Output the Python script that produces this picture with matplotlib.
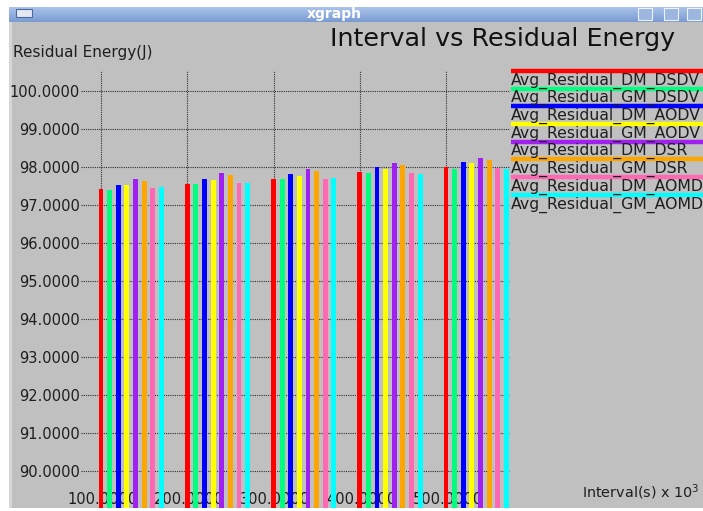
import matplotlib
matplotlib.use("Agg")
import matplotlib.pyplot as plt
import numpy as np
from matplotlib.patches import Rectangle
from matplotlib.colors import LinearSegmentedColormap

W, H = 703, 511

intervals = [100, 200, 300, 400, 500]
series_names = [
    "Avg_Residual_DM_DSDV",
    "Avg_Residual_GM_DSDV",
    "Avg_Residual_DM_AODV",
    "Avg_Residual_GM_AODV",
    "Avg_Residual_DM_DSR",
    "Avg_Residual_GM_DSR",
    "Avg_Residual_DM_AOMDV",
    "Avg_Residual_GM_AOMDV",
]
series_colors = ["#ff0000", "#00ff7f", "#0000ff", "#ffff00",
                 "#a020f0", "#ffa500", "#ff69b4", "#00ffff"]

dm_dsdv = [97.41, 97.56, 97.68, 97.87, 98.00]
gm_dsdv = [97.39, 97.54, 97.68, 97.84, 97.95]
dm_aodv = [97.53, 97.68, 97.82, 98.00, 98.14]
gm_aodv = [97.53, 97.66, 97.77, 97.95, 98.11]
dm_dsr = [97.69, 97.84, 97.95, 98.11, 98.23]
gm_dsr = [97.63, 97.80, 97.89, 98.05, 98.18]
dm_aomdv = [97.44, 97.59, 97.68, 97.84, 97.97]
gm_aomdv = [97.47, 97.59, 97.72, 97.82, 97.95]
series_values = [dm_dsdv, gm_dsdv, dm_aodv, gm_aodv, dm_dsr, gm_dsr, dm_aomdv, gm_aomdv]

y_ticks = [90, 91, 92, 93, 94, 95, 96, 97, 98, 99, 100]

GRAY = "#c0c0c0"
TXT = "#1e1e1e"

fig = plt.figure(figsize=(W / 100, H / 100), dpi=100)
fig.patch.set_facecolor("white")


def fx(px):
    return px / W


def fy(py):
    return 1 - py / H


# window body
body = fig.add_axes([fx(9), fy(508), fx(W - 9), fy(22) - fy(508)], zorder=0)
body.set_facecolor(GRAY)
body.add_patch(Rectangle((0, 0), 3 / (W - 9), 1, transform=body.transAxes,
                         facecolor="#d6d6d6", edgecolor="none"))
body.set_xticks([])
body.set_yticks([])
for s in body.spines.values():
    s.set_visible(False)

# title bar with gradient
tb = fig.add_axes([fx(9), fy(22), fx(W - 9), fy(7) - fy(22)], zorder=1)
grad = np.linspace(0, 1, 20).reshape(-1, 1)
cmap = LinearSegmentedColormap.from_list("tb", ["#a9c2ea", "#7b9cd2"])
tb.imshow(grad, aspect="auto", cmap=cmap, extent=[0, 1, 0, 1], origin="upper")
tb.set_xlim(0, 1)
tb.set_ylim(0, 1)
tb.axis("off")
fig.text(fx(334), fy(14), "xgraph", color="white", fontsize=10, fontweight="bold",
         ha="center", va="center", family="DejaVu Sans", zorder=5)
# window icon and buttons
fig.patches.append(Rectangle((fx(16), fy(17)), fx(16), fy(9) - fy(17), transform=fig.transFigure,
                             facecolor="#e4e8f0", edgecolor="#4a6aa0", lw=0.8, zorder=5))
for bx in [638, 664, 687]:
    fig.patches.append(Rectangle((fx(bx), fy(20)), fx(14), fy(8) - fy(20), transform=fig.transFigure,
                                 facecolor="#9cb6e0", edgecolor="#eef2fa", lw=0.8, zorder=5))

# main plot axes
ax_l, ax_r, ax_t, ax_b = 81, 510, 71, 508
ax = fig.add_axes([fx(ax_l), fy(ax_b), fx(ax_r - ax_l), fy(ax_t) - fy(ax_b)], zorder=2)
ax.set_facecolor("none")
for s in ax.spines.values():
    s.set_visible(False)

px_per_x = 0.8625
ax.set_xlim(100 - 20 / px_per_x, 100 + 409 / px_per_x)
ax.set_ylim(100 - (ax_b - 91) / 38, 100 + (91 - ax_t) / 38)

for yv in y_ticks:
    ax.axhline(yv, color="#303030", lw=0.8, ls=(0, (1, 1)), zorder=1)
for xv in intervals:
    ax.axvline(xv, color="#303030", lw=0.8, ls=(0, (1, 1)), zorder=1)

ax.set_xticks([])
ax.set_yticks(y_ticks)
ax.set_yticklabels([f"{v:.4f}" for v in y_ticks], fontsize=10.5, color=TXT)
ax.tick_params(axis="y", length=0, pad=1)

# x labels drawn underneath the bars
for xv in intervals:
    ax.text(xv + 2, 89.25, f"{xv:.4f}", ha="center", va="center", fontsize=10.5,
            color=TXT, zorder=1.5, clip_on=False)

x = np.array(intervals, dtype=float)
for i, (vals, col) in enumerate(zip(series_values, series_colors)):
    ax.bar(x + 10 * i, vals, width=5.6, color=col, zorder=2)

# legend on the right
for i, (name, col) in enumerate(zip(series_names, series_colors)):
    ly = 71 + i * 17.7
    fig.add_artist(plt.Line2D([fx(511), fx(W)], [fy(ly), fy(ly)], transform=fig.transFigure,
                              color=col, lw=3.2, solid_capstyle="butt", zorder=5))
    fig.text(fx(511), fy(ly + 9.5), name, fontsize=11.3, color=TXT, ha="left", va="center",
             zorder=5)

fig.text(fx(675), fy(39), "Interval vs Residual Energy", fontsize=18.3, color="#111111",
         ha="right", va="center", zorder=5)
fig.text(fx(13), fy(53), "Residual Energy(J)", fontsize=11, color=TXT, ha="left", va="center",
         zorder=5)
fig.text(fx(582), fy(492), "Interval(s) x 10$^3$", fontsize=10.4, color=TXT, ha="left",
         va="center", zorder=5)

fig.savefig("out.png", dpi=100, facecolor=fig.get_facecolor())
